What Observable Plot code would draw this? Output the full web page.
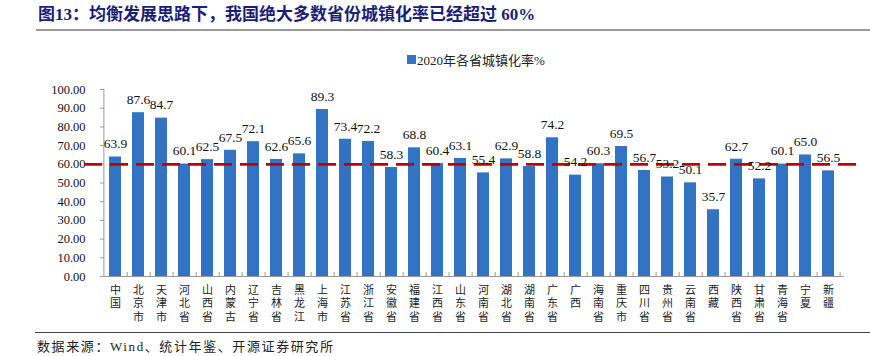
<!DOCTYPE html>
<html>
<head>
<meta charset="utf-8">
<script src="https://cdn.jsdelivr.net/npm/d3@7"></script>
<script src="https://cdn.jsdelivr.net/npm/@observablehq/plot@0.6"></script>
<style>
  html, body { margin: 0; padding: 0; background: #fff; }
  #wrap { position: relative; width: 870px; height: 356px; overflow: hidden; background: #fff; }
  #title { position: absolute; left: 38px; top: 4px; font-family: "Liberation Serif", "Noto Sans CJK SC", serif; font-weight: bold; font-size: 17px; line-height: 22px; color: #1b1f74; white-space: nowrap; }
  #rule1 { position: absolute; left: 36px; top: 29px; width: 834px; height: 2px; background: #9a9a9a; }
  #legend { position: absolute; left: 407px; top: 50px; height: 18px; font-family: "Liberation Serif", "Noto Sans CJK SC", serif; font-size: 13px; color: #222; white-space: nowrap; display: flex; align-items: center; }
  #legend .sw { width: 9px; height: 9px; background: #3273c3; margin-right: 1px; }
  #chart { position: absolute; left: 0; top: 75px; }
  #rule2 { position: absolute; left: 35px; top: 332px; width: 835px; height: 1px; background: #444; }
  #source { position: absolute; left: 37px; top: 338px; line-height: 18px; font-family: "Liberation Serif", "Noto Sans CJK SC", serif; font-size: 13px; letter-spacing: 1.6px; color: #222; white-space: nowrap; }
</style>
</head>
<body>
<div id="wrap">
  <div id="title">图13：均衡发展思路下，我国绝大多数省份城镇化率已经超过 60%</div>
  <div id="rule1"></div>
  <div id="legend"><span class="sw"></span><span>2020年各省城镇化率%</span></div>
  <div id="chart"></div>
  <div id="rule2"></div>
  <div id="source">数据来源：Wind、统计年鉴、开源证券研究所</div>
</div>
<script>
const regions = ["中国","北京市","天津市","河北省","山西省","内蒙古","辽宁省","吉林省","黑龙江","上海市","江苏省","浙江省","安徽省","福建省","江西省","山东省","河南省","湖北省","湖南省","广东省","广西","海南省","重庆市","四川省","贵州省","云南省","西藏","陕西省","甘肃省","青海省","宁夏","新疆"];
const rates = [63.9,87.6,84.7,60.1,62.5,67.5,72.1,62.6,65.6,89.3,73.4,72.2,58.3,68.8,60.4,63.1,55.4,62.9,58.8,74.2,54.2,60.3,69.5,56.7,53.2,50.1,35.7,62.7,52.2,60.1,65.0,56.5];
const yTicks = [0,10,20,30,40,50,60,70,80,90,100];
const threshold = 60;

const data = regions.map((r, i) => ({region: r, rate: rates[i]}));

const W = 870, H = 255, ML = 100, MR = 26, MT = 14, MB = 54;
const plotW = W - ML - MR;
const step = plotW / regions.length;

const plot = Plot.plot({
  width: W, height: H,
  marginLeft: ML, marginRight: MR, marginTop: MT, marginBottom: MB,
  style: { fontFamily: "'Liberation Serif', 'Noto Sans CJK SC', serif", fontSize: "12.5px", color: "#111", background: "#fff" },
  x: { domain: regions, paddingInner: 0.47, paddingOuter: 0.235, label: null },
  y: { domain: [0, 100], label: null },
  marks: [
    Plot.axisY({ ticks: yTicks, tickFormat: d => d.toFixed(2), tickSize: 0, tickPadding: 15, fontSize: 12.5, label: null }),
    Plot.axisX({ tickSize: 0, tickPadding: 8, fontFamily: "'Noto Sans CJK SC', sans-serif", fontSize: 11, textAnchor: "start", lineAnchor: "top", tickFormat: d => d, label: null, fill: "#222" }),
    Plot.barY(data, { x: "region", y: "rate", fill: "#3273c3" }),
    // y axis line and inward ticks
    Plot.ruleX([regions[0]], { x: d => d, y1: 0, y2: 100, dx: -step / 2, stroke: "#999" }),
    Plot.ruleY(yTicks, { y: d => d, insetRight: plotW - 4, stroke: "#999" }),
    // x axis line and inward boundary ticks
    Plot.ruleY([0], { stroke: "#999" }),
    Plot.ruleX(regions, { x: d => d, y1: 0, y2: 0, insetTop: -4, dx: step / 2, stroke: "#999" }),
    Plot.ruleY([threshold], { stroke: "#c00000", strokeWidth: 2.8, strokeDasharray: "18,8", insetLeft: -16, insetRight: -16 }),
    Plot.text(data, { x: "region", y: "rate", text: d => d.rate.toFixed(1), dy: -13, fontSize: 13.5, fill: "#111" })
  ]
});

// stack the category names vertically, one character per line, as in the reference
plot.querySelectorAll('g[aria-label="x-axis tick label"] text').forEach(t => {
  t.removeAttribute("y");
  t.removeAttribute("dy");
  t.setAttribute("writing-mode", "vertical-rl");
  t.setAttribute("text-anchor", "start");
  t.style.textOrientation = "upright";
  t.style.letterSpacing = "2.3px";
});
document.getElementById("chart").appendChild(plot);
</script>
</body>
</html>
